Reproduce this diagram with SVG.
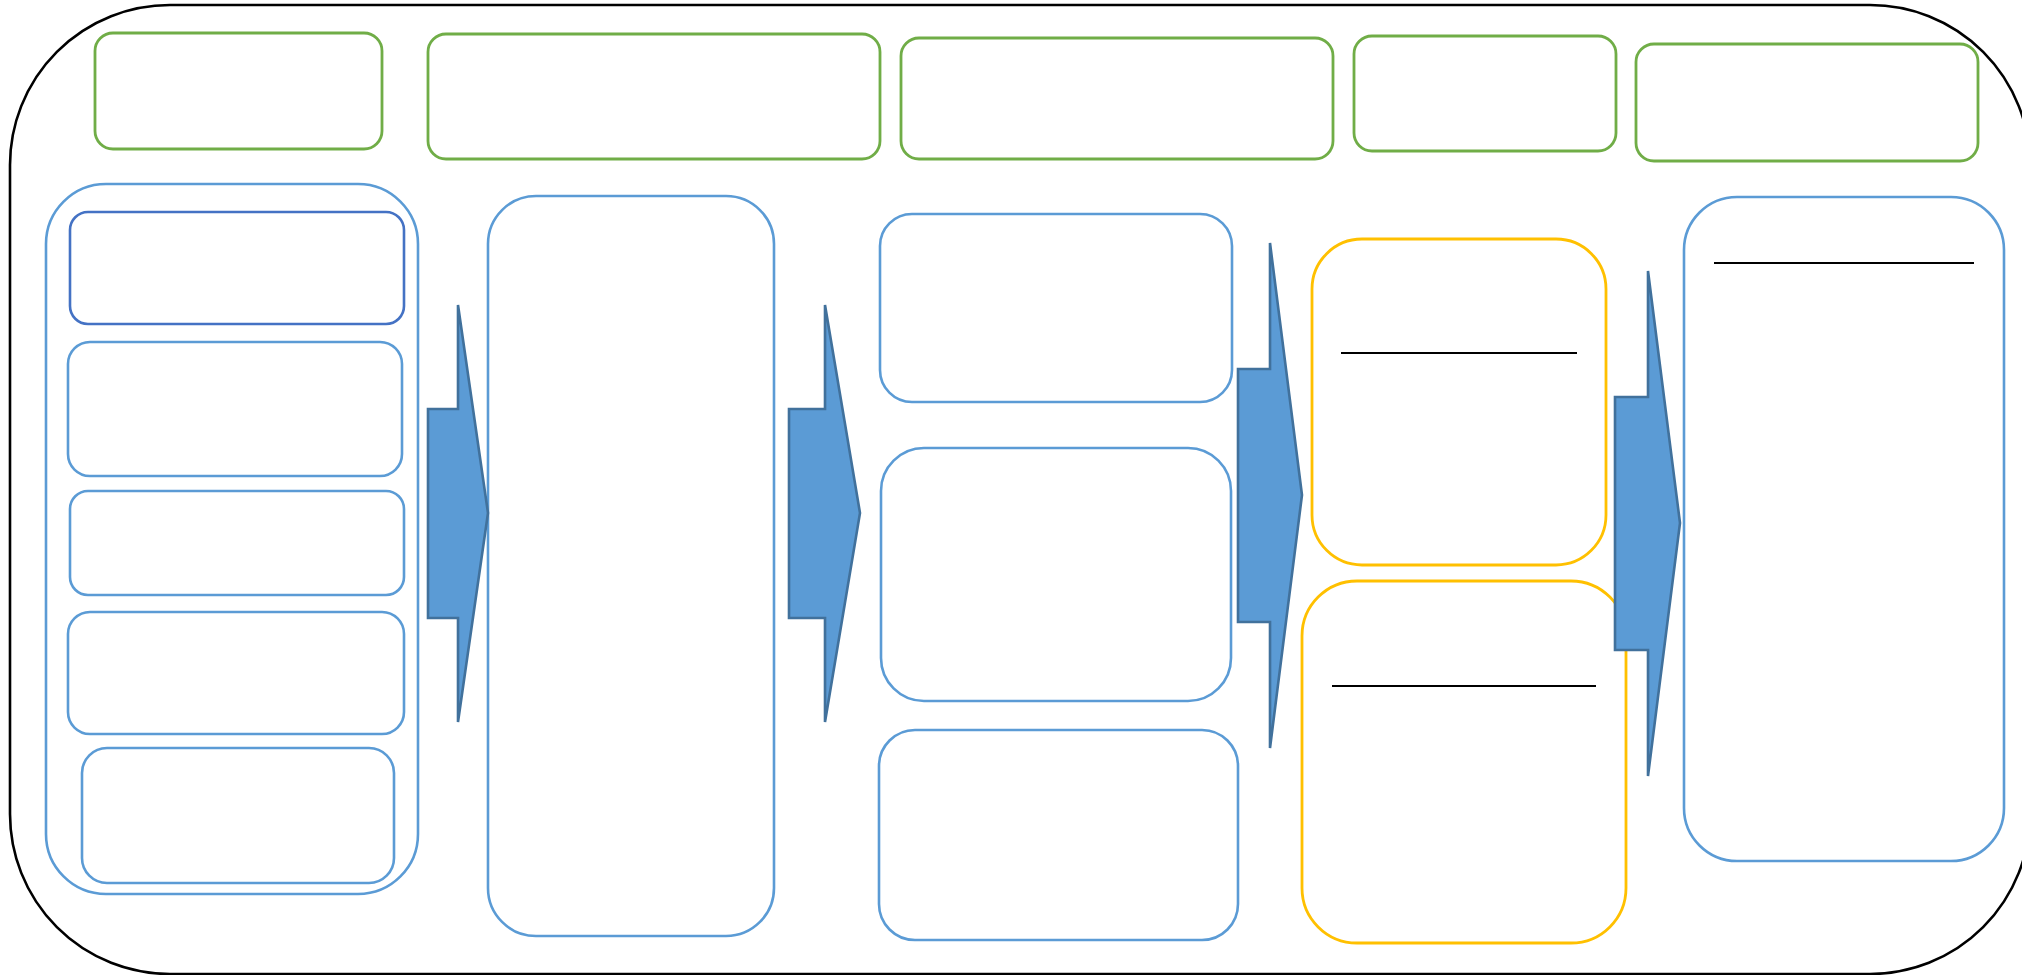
<svg xmlns="http://www.w3.org/2000/svg" width="2022" height="975" viewBox="0 0 2022 975">
  <style>
    .frame { fill: #FFFFFF; stroke: #000000; stroke-width: 2.6; }
    .green { fill: #FFFFFF; stroke: #70AD47; stroke-width: 2.8; }
    .blue { fill: #FFFFFF; stroke: #5B9BD5; stroke-width: 2.6; }
    .dblue { fill: #FFFFFF; stroke: #4472C4; stroke-width: 2.6; }
    .yellow { fill: #FFFFFF; stroke: #FFC000; stroke-width: 2.8; }
    .arrow { fill: #5B9BD5; stroke: #41719C; stroke-width: 2.6; stroke-linejoin: miter; }
    .rule { stroke: #000000; stroke-width: 2; }
  </style>
  <rect width="2022" height="975" fill="#FFFFFF"/>
  <g id="frame">
    <rect class="frame" x="10" y="5" width="2020" height="969" rx="160" ry="160"/>
  </g>

  <g id="header-1"><rect class="green" x="95" y="33" width="287" height="116" rx="18"/></g>
  <g id="header-2"><rect class="green" x="428" y="34" width="452" height="125" rx="18"/></g>
  <g id="header-3"><rect class="green" x="901" y="38" width="432" height="121" rx="18"/></g>
  <g id="header-4"><rect class="green" x="1354" y="36" width="262" height="115" rx="18"/></g>
  <g id="header-5"><rect class="green" x="1636" y="44" width="342" height="117" rx="18"/></g>

  <g id="left-group">
    <rect class="blue" x="46" y="184" width="372" height="710" rx="60"/>
  </g>
  <g id="left-item-1"><rect class="dblue" x="70" y="212" width="334" height="112" rx="18"/></g>
  <g id="left-item-2"><rect class="blue" x="68" y="342" width="334" height="134" rx="22"/></g>
  <g id="left-item-3"><rect class="blue" x="70" y="491" width="334" height="104" rx="18"/></g>
  <g id="left-item-4"><rect class="blue" x="68" y="612" width="336" height="122" rx="22"/></g>
  <g id="left-item-5"><rect class="blue" x="82" y="748" width="312" height="135" rx="25"/></g>

  <g id="column-2"><rect class="blue" x="488" y="196" width="286" height="740" rx="48"/></g>

  <g id="column-3-top"><rect class="blue" x="880" y="214" width="352" height="188" rx="32"/></g>
  <g id="column-3-middle"><rect class="blue" x="881" y="448" width="350" height="253" rx="43"/></g>
  <g id="column-3-bottom"><rect class="blue" x="879" y="730" width="359" height="210" rx="36"/></g>

  <g id="yellow-top">
    <rect class="yellow" x="1312" y="239" width="294" height="326" rx="50"/>
    <line class="rule" x1="1341" y1="353" x2="1577" y2="353"/>
  </g>
  <g id="yellow-bottom">
    <rect class="yellow" x="1302" y="581" width="324" height="362" rx="55"/>
    <line class="rule" x1="1332" y1="686" x2="1596" y2="686"/>
  </g>

  <g id="result">
    <rect class="blue" x="1684" y="197" width="320" height="664" rx="53"/>
    <line class="rule" x1="1714" y1="263" x2="1974" y2="263"/>
  </g>

  <g id="connectors">
    <polygon class="arrow" points="458,305 488,513 458,722 458,618 428,618 428,409 458,409"/>
    <polygon class="arrow" points="825,305 860,513 825,722 825,618 789,618 789,409 825,409"/>
    <polygon class="arrow" points="1270,243 1302,495 1270,748 1270,622 1238,622 1238,369 1270,369"/>
    <polygon class="arrow" points="1648,271 1680,523 1648,776 1648,650 1615,650 1615,397 1648,397"/>
  </g>
</svg>
